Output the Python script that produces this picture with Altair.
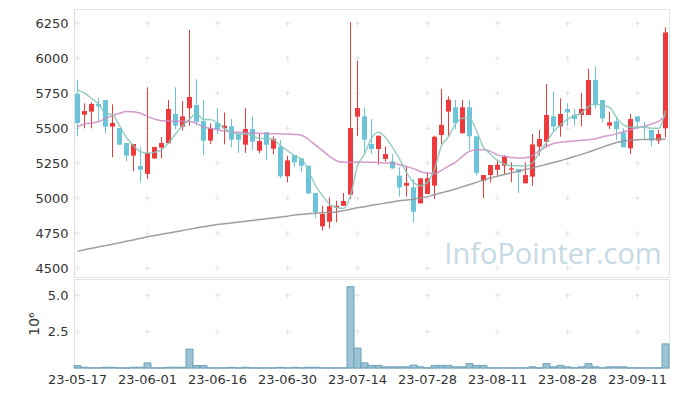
import altair as alt
import pandas as pd

dates = [
    "23-05-17", "23-05-18", "23-05-19", "23-05-22", "23-05-23", "23-05-24", "23-05-25", "23-05-26", "23-05-30", "23-05-31",
    "23-06-01", "23-06-02", "23-06-05", "23-06-07", "23-06-08", "23-06-09", "23-06-12", "23-06-13", "23-06-14", "23-06-15",
    "23-06-16", "23-06-19", "23-06-20", "23-06-21", "23-06-22", "23-06-23", "23-06-26", "23-06-27", "23-06-28", "23-06-29",
    "23-06-30", "23-07-03", "23-07-04", "23-07-05", "23-07-06", "23-07-07", "23-07-10", "23-07-11", "23-07-12", "23-07-13",
    "23-07-14", "23-07-17", "23-07-18", "23-07-19", "23-07-20", "23-07-21", "23-07-24", "23-07-25", "23-07-26", "23-07-27",
    "23-07-28", "23-07-31", "23-08-01", "23-08-02", "23-08-03", "23-08-04", "23-08-07", "23-08-08", "23-08-09", "23-08-10",
    "23-08-11", "23-08-14", "23-08-16", "23-08-17", "23-08-18", "23-08-21", "23-08-22", "23-08-23", "23-08-24", "23-08-25",
    "23-08-28", "23-08-29", "23-08-30", "23-08-31", "23-09-01", "23-09-04", "23-09-05", "23-09-06", "23-09-07", "23-09-08",
    "23-09-11", "23-09-12", "23-09-13", "23-09-14", "23-09-15",
]

opens = [5745, 5597, 5619, 5674, 5702, 5512, 5502, 5395, 5305, 5231,
         5174, 5285, 5362, 5393, 5602, 5512, 5643, 5666, 5552, 5412,
         5538, 5500, 5514, 5459, 5383, 5495, 5340, 5471, 5354, 5371,
         5157, 5309, 5285, 5233, 5038, 4800, 4833, 4935, 4947, 5026,
         5583, 5585, 5388, 5352, 5281, 5264, 5162, 5090, 5078, 4964,
         5031, 5090, 5452, 5619, 5650, 5464, 5650, 5443, 5126, 5166,
         5204, 5233, 5204, 5209, 5107, 5155, 5369, 5404, 5585, 5514,
         5638, 5597, 5595, 5595, 5845, 5702, 5519, 5550, 5471, 5357,
         5585, 5514, 5488, 5412, 5500]
highs = [5845, 5678, 5685, 5716, 5702, 5671, 5502, 5395, 5388, 5364,
         5793, 5369, 5438, 5702, 5793, 5693, 6202, 5850, 5702, 5535,
         5643, 5614, 5566, 5459, 5643, 5585, 5459, 5471, 5443, 5419,
         5304, 5309, 5285, 5233, 5038, 4947, 5007, 4983, 5038, 6257,
         5983, 5650, 5566, 5447, 5369, 5316, 5221, 5226, 5138, 5143,
         5185, 5447, 5781, 5728, 5702, 5702, 5702, 5443, 5166, 5238,
         5269, 5309, 5257, 5209, 5257, 5459, 5488, 5816, 5764, 5714,
         5678, 5638, 5752, 5924, 5943, 5702, 5619, 5583, 5500, 5602,
         5585, 5547, 5488, 5490, 6221]
lows = [5442, 5500, 5500, 5543, 5464, 5293, 5383, 5264, 5193, 5114,
        5138, 5281, 5285, 5393, 5495, 5483, 5519, 5519, 5309, 5388,
        5459, 5385, 5364, 5324, 5324, 5345, 5321, 5274, 5314, 5143,
        5114, 5221, 5185, 5031, 4857, 4769, 4785, 4828, 4947, 4995,
        5443, 5324, 5316, 5240, 5262, 5209, 5012, 5012, 4828, 4964,
        5031, 4995, 5388, 5443, 5495, 5464, 5345, 5162, 5002, 5114,
        5162, 5166, 5114, 5038, 5107, 5090, 5305, 5364, 5476, 5440,
        5519, 5519, 5514, 5595, 5640, 5543, 5495, 5419, 5364, 5316,
        5495, 5419, 5371, 5388, 5435]
closes = [5538, 5623, 5674, 5657, 5512, 5538, 5383, 5305, 5388, 5204,
          5324, 5366, 5395, 5638, 5519, 5585, 5724, 5547, 5412, 5500,
          5495, 5519, 5419, 5419, 5495, 5404, 5409, 5383, 5424, 5157,
          5271, 5257, 5233, 5035, 4900, 4888, 4943, 4947, 4981, 5502,
          5645, 5419, 5352, 5447, 5316, 5214, 5078, 5109, 4904, 5143,
          5143, 5440, 5524, 5704, 5538, 5650, 5443, 5181, 5166, 5238,
          5240, 5297, 5214, 5185, 5166, 5385, 5424, 5595, 5512, 5602,
          5614, 5566, 5638, 5845, 5666, 5571, 5543, 5495, 5364, 5566,
          5547, 5507, 5412, 5459, 6185]

ma5 = [5774, 5752, 5714, 5674, 5607, 5597, 5519, 5435, 5376, 5333,
       5324, 5328, 5347, 5395, 5459, 5519, 5566, 5604, 5562, 5562,
       5538, 5500, 5471, 5459, 5459, 5447, 5428, 5428, 5419, 5376,
       5340, 5304, 5281, 5197, 5090, 5019, 4959, 4935, 4928, 5019,
       5233, 5316, 5430, 5471, 5435, 5364, 5281, 5185, 5114, 5090,
       5114, 5209, 5376, 5440, 5531, 5571, 5571, 5483, 5364, 5316,
       5269, 5245, 5233, 5233, 5230, 5252, 5328, 5400, 5476, 5524,
       5566, 5590, 5609, 5657, 5674, 5662, 5650, 5578, 5524, 5507,
       5507, 5507, 5500, 5500, 5626]
ma20 = [5511, 5530, 5538, 5547, 5571, 5590, 5607, 5620, 5619, 5607,
        5585, 5566, 5554, 5552, 5550, 5550, 5548, 5535, 5510, 5500,
        5490, 5480, 5474, 5471, 5468, 5466, 5464, 5462, 5461, 5460,
        5459, 5456, 5450, 5420, 5380, 5340, 5300, 5268, 5257, 5258,
        5260, 5258, 5257, 5255, 5252, 5250, 5240, 5228, 5212, 5190,
        5180, 5176, 5200, 5230, 5257, 5300, 5335, 5345, 5348, 5335,
        5310, 5300, 5292, 5287, 5290, 5305, 5340, 5370, 5392, 5400,
        5405, 5410, 5415, 5419, 5425, 5440, 5448, 5460, 5475, 5490,
        5505, 5515, 5531, 5550, 5590]
ma120 = [4621, 4632, 4643, 4653, 4662, 4672, 4682, 4693, 4703, 4714,
         4726, 4734, 4743, 4752, 4761, 4770, 4779, 4788, 4797, 4805,
         4813, 4818, 4824, 4830, 4836, 4842, 4848, 4854, 4860, 4866,
         4872, 4881, 4886, 4890, 4894, 4897, 4900, 4903, 4912, 4922,
         4932, 4940, 4950, 4958, 4966, 4974, 4982, 4988, 4994, 5003,
         5012, 5026, 5040, 5052, 5066, 5082, 5098, 5114, 5130, 5146,
         5158, 5170, 5182, 5194, 5205, 5218, 5230, 5243, 5256, 5268,
         5283, 5298, 5314, 5330, 5348, 5365, 5383, 5398, 5409, 5415,
         5419, 5420, 5421, 5422, 5424]

volume_m = [0.16, 0.05, 0.01, 0.01, 0.05, 0.05, 0.01, 0.01, 0.05, 0.05,
            0.35, 0.01, 0.01, 0.05, 0.05, 0.05, 1.30, 0.17, 0.17, 0.01,
            0.01, 0.01, 0.05, 0.01, 0.05, 0.01, 0.01, 0.01, 0.01, 0.05,
            0.01, 0.05, 0.01, 0.05, 0.05, 0.01, 0.01, 0.01, 0.01, 5.60,
            1.37, 0.35, 0.18, 0.18, 0.08, 0.08, 0.08, 0.08, 0.20, 0.08,
            0.01, 0.18, 0.18, 0.18, 0.08, 0.08, 0.30, 0.18, 0.18, 0.01,
            0.01, 0.01, 0.01, 0.01, 0.01, 0.08, 0.01, 0.30, 0.08, 0.18,
            0.08, 0.01, 0.08, 0.30, 0.08, 0.01, 0.08, 0.08, 0.08, 0.01,
            0.01, 0.01, 0.01, 0.01, 1.66]

x_labels = ["23-05-17", "23-06-01", "23-06-16", "23-06-30", "23-07-14",
            "23-07-28", "23-08-11", "23-08-28", "23-09-11"]
price_ticks = [4500, 4750, 5000, 5250, 5500, 5750, 6000, 6250]
vol_ticks = [2.5, 5.0]
watermark = "InfoPointer.com"

RED = "#ef3a3d"
CYAN = "#6cc4d8"
FONT = "DejaVu Sans"
TXT = "#333333"

df = pd.DataFrame({
    "date": dates, "open": opens, "high": highs, "low": lows, "close": closes,
    "ma5": ma5, "ma20": ma20, "ma120": ma120, "vol": volume_m,
})
df["dir"] = ["up" if c >= o else "down" for o, c in zip(opens, closes)]

grid_price = pd.DataFrame([(d, v) for d in x_labels for v in price_ticks], columns=["date", "v"])
grid_vol = pd.DataFrame([(d, v) for d in x_labels for v in vol_ticks], columns=["date", "v"])

xscale = alt.Scale(type="band", domain=dates, paddingInner=0, paddingOuter=0)
x_noaxis = alt.X("date:N", scale=xscale, axis=None)

ysc = alt.Scale(domain=[4438, 6352], nice=False, zero=False)
yax = alt.Axis(values=price_ticks, format="d", grid=False, ticks=False, title=None,
               domainColor="#dddddd", labelColor=TXT, labelFont=FONT,
               labelFontSize=13, labelPadding=6)

def Y(field):
    return alt.Y(field, type="quantitative", scale=ysc, axis=yax)

CROSS = "M-1,0L1,0M0,-1L0,1"
CROSS_COL = "#e3e3e3"

cross_p = alt.Chart(grid_price).mark_point(
    shape=CROSS, size=25, filled=False, color=CROSS_COL, strokeWidth=1, opacity=1
).encode(x=x_noaxis, y=Y("v"))

wm = alt.Chart(pd.DataFrame({"t": [watermark]})).mark_text(
    font="Open Sans", fontSize=29, color="#c6dae5", align="center", baseline="middle"
).encode(text="t:N", x=alt.value(479), y=alt.value(246))

cscale = alt.Scale(domain=["up", "down"], range=[RED, CYAN])

wicks = alt.Chart(df).mark_rule(strokeWidth=1).encode(
    x=x_noaxis, y=Y("low"), y2="high",
    color=alt.Color("dir:N", scale=cscale, legend=None),
)
bodies = alt.Chart(df).mark_bar(size=5).encode(
    x=x_noaxis, y=Y("open"), y2="close",
    color=alt.Color("dir:N", scale=cscale, legend=None),
)

def ma_line(field, col, w=1.5, op=0.85):
    return alt.Chart(df).mark_line(color=col, strokeWidth=w, opacity=op, interpolate="monotone").encode(
        x=x_noaxis, y=Y(field)
    )

price = alt.layer(
    cross_p, wm, wicks, bodies,
    ma_line("ma120", "#959595", 1.5, 0.9),
    ma_line("ma20", "#c98bc2", 1.5, 0.85),
    ma_line("ma5", "#86c7bb", 1.5, 0.85),
).properties(width=595, height=268)

vsc = alt.Scale(domain=[0, 6.13], nice=False, zero=True)
vax = alt.Axis(values=vol_ticks, format=".1f", grid=False, ticks=False, title="10⁶",
               titleFont=FONT, titleFontSize=14, titleFontWeight="normal", titleColor=TXT,
               titlePadding=6, domainColor="#dddddd", labelColor=TXT, labelFont=FONT,
               labelFontSize=13, labelPadding=6)

x_axis = alt.X("date:N", scale=xscale,
               axis=alt.Axis(values=x_labels, labelAngle=0, ticks=False, grid=False, title=None,
                             domainColor="#dddddd", labelColor=TXT, labelFont=FONT,
                             labelFontSize=13, labelPadding=5))

cross_v = alt.Chart(grid_vol).mark_point(
    shape=CROSS, size=25, filled=False, color=CROSS_COL, strokeWidth=1, opacity=1
).encode(x=x_axis, y=alt.Y("v:Q", scale=vsc, axis=vax))

vbars = alt.Chart(df).mark_bar(fill="#9cc3d4", stroke="#6da2b9", strokeWidth=1).encode(
    x=x_axis, y=alt.Y("vol:Q", scale=vsc, axis=vax)
)

vol = alt.layer(cross_v, vbars).properties(width=595, height=89)

chart = alt.vconcat(price, vol, spacing=0).configure_view(
    stroke="#e3e3e3"
).properties(
    padding={"left": 26, "top": 8, "right": 5, "bottom": 5}
)

chart.save("out.html", embed_options={"renderer": "svg", "actions": False})
